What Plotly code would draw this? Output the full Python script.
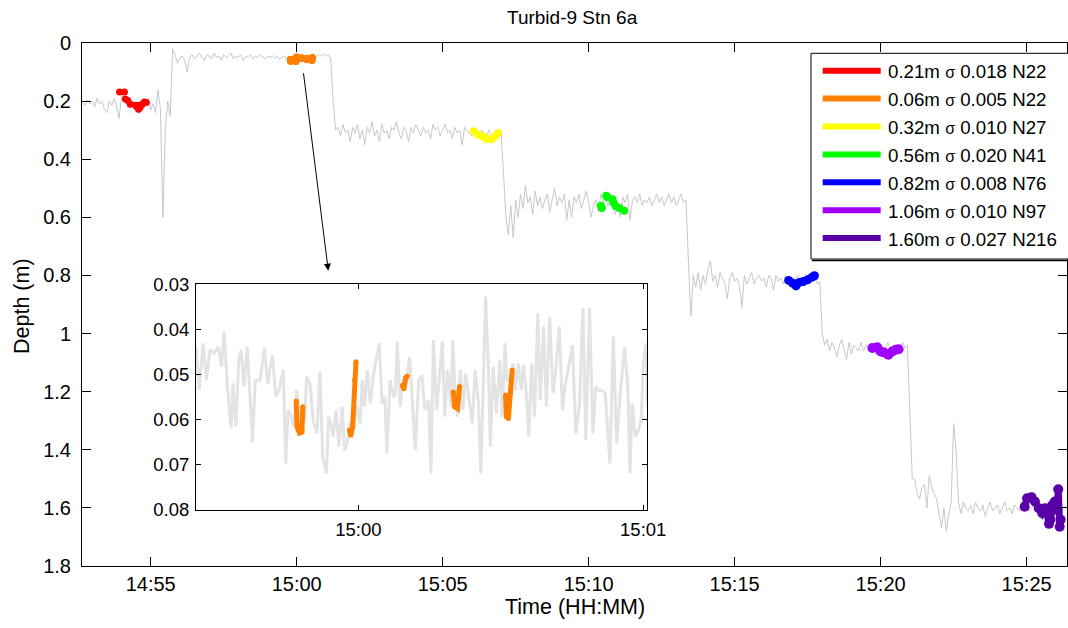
import pandas as pd
import plotly.graph_objects as go

DAY = "2013-01-01 "

# ---------------- main gray depth record (5 s samples from 14:52:40) ----------------
gray_start = "14:52:40"
seg_a = [0.205, 0.215, 0.195, 0.210, 0.200, 0.220, 0.190, 0.210, 0.200, 0.230,
         0.240, 0.200, 0.215, 0.190, 0.220, 0.260, 0.180, 0.200, 0.190, 0.210,
         0.200, 0.220, 0.210, 0.230, 0.200, 0.220, 0.210, 0.190, 0.230, 0.210,
         0.240, 0.160, 0.230, 0.600, 0.300, 0.200, 0.250]
seg_b = [0.020, 0.040, 0.070, 0.050, 0.045, 0.060, 0.100, 0.050, 0.040, 0.055,
         0.045, 0.035, 0.050, 0.060, 0.040, 0.045, 0.055, 0.035, 0.050, 0.045,
         0.060, 0.040, 0.050, 0.045, 0.035, 0.055, 0.045, 0.050, 0.040, 0.060,
         0.045, 0.050, 0.040, 0.055, 0.045, 0.050, 0.040, 0.048, 0.055, 0.045,
         0.050, 0.044, 0.052, 0.046, 0.055, 0.048, 0.044, 0.060, 0.050, 0.055,
         0.062, 0.058, 0.050, 0.055, 0.048, 0.052, 0.045, 0.050, 0.042, 0.048,
         0.040, 0.045, 0.038, 0.045, 0.040, 0.055]
seg_c = [0.200, 0.300, 0.290, 0.320, 0.280, 0.310, 0.300, 0.340, 0.290, 0.310,
         0.280, 0.330, 0.300, 0.350, 0.290, 0.310, 0.270, 0.320, 0.300, 0.340,
         0.280, 0.310, 0.300, 0.330, 0.290, 0.300, 0.270, 0.310, 0.330, 0.290,
         0.300, 0.340, 0.290, 0.310, 0.280, 0.300, 0.320, 0.290, 0.310, 0.300,
         0.330, 0.280, 0.300, 0.290, 0.320, 0.300, 0.280, 0.310, 0.300, 0.330,
         0.290, 0.310, 0.300, 0.350, 0.290, 0.300, 0.310, 0.320, 0.300, 0.310,
         0.330, 0.300, 0.310, 0.320, 0.300, 0.330, 0.310, 0.320, 0.300, 0.310]
seg_d = [0.450, 0.600, 0.660, 0.560, 0.670, 0.540, 0.600, 0.520, 0.570, 0.490,
         0.550, 0.530, 0.590, 0.510, 0.560, 0.530, 0.570, 0.540, 0.520, 0.580,
         0.540, 0.500, 0.560, 0.530, 0.550, 0.520, 0.610, 0.540, 0.600, 0.530,
         0.550, 0.520, 0.570, 0.540, 0.510, 0.550, 0.600, 0.560, 0.540, 0.580,
         0.520, 0.550, 0.530, 0.560, 0.520, 0.570, 0.590, 0.550, 0.600, 0.530,
         0.550, 0.520, 0.610, 0.540, 0.530, 0.550, 0.520, 0.560, 0.540, 0.550,
         0.530, 0.560, 0.540, 0.520, 0.550, 0.530, 0.560, 0.540, 0.520, 0.550,
         0.530, 0.560, 0.540, 0.520, 0.550, 0.540]
seg_e = [0.750, 0.940, 0.800, 0.840, 0.790, 0.850, 0.800, 0.830, 0.780, 0.750,
         0.820, 0.800, 0.840, 0.790, 0.810, 0.830, 0.880, 0.810, 0.790, 0.820,
         0.810, 0.840, 0.910, 0.800, 0.830, 0.810, 0.790, 0.830, 0.810, 0.800,
         0.820, 0.810, 0.840, 0.800, 0.810, 0.850, 0.800, 0.820, 0.810, 0.830,
         0.800, 0.820, 0.810, 0.830, 0.810, 0.800, 0.820, 0.810, 0.830, 0.800,
         0.820, 0.810, 0.800, 0.830, 0.820]
seg_f = [1.000, 1.040, 1.020, 1.060, 1.030, 1.050, 1.080, 1.040, 1.020, 1.060,
         1.090, 1.030, 1.070, 1.040, 1.050, 1.060, 1.030, 1.060, 1.040, 1.050,
         1.060, 1.040, 1.070, 1.050, 1.040, 1.060, 1.050, 1.030, 1.060, 1.050,
         1.040, 1.060, 1.050, 1.030, 1.050, 1.040]
seg_g = [1.300, 1.500, 1.500, 1.550, 1.570, 1.530, 1.520, 1.600, 1.490, 1.530,
         1.550, 1.570, 1.620, 1.670, 1.600, 1.680, 1.620, 1.580, 1.310, 1.400,
         1.580, 1.620, 1.580, 1.600, 1.610, 1.590, 1.620, 1.580, 1.600, 1.610,
         1.590, 1.630, 1.600, 1.580, 1.610, 1.600, 1.590, 1.620, 1.600, 1.580,
         1.610, 1.600, 1.620, 1.590, 1.600, 1.610, 1.580, 1.600, 1.590, 1.610,
         1.600, 1.590, 1.610, 1.600, 1.620, 1.590, 1.600, 1.610, 1.590, 1.600,
         1.610, 1.590, 1.620, 1.600, 1.590]
gray_depth = seg_a + seg_b + seg_c + seg_d + seg_e + seg_f + seg_g
gray_time = pd.date_range(DAY + gray_start, periods=len(gray_depth), freq="5s")

# ---------------- inset gray record (seconds relative to 15:00:00) ----------------
inset_sec = [-34.2, -33.5, -32.7, -32.0, -31.3, -30.4, -29.5, -28.8, -28.3, -27.6,
             -26.8, -26.4, -25.8, -25.2, -24.7, -24.1, -23.4, -22.9, -22.3, -21.7,
             -20.7, -19.8, -19.1, -18.1, -17.4, -16.7, -15.8, -15.3, -14.8, -14.3,
             -13.6, -13.0, -12.3, -11.3, -10.9, -10.2, -9.5, -8.7, -8.1, -7.5,
             -6.7, -6.3, -5.7, -5.3, -4.7, -4.1, -3.4, -2.9, -2.3, -1.9,
             -1.0, -0.3, 0.4, 0.8, 1.3, 1.9, 2.5, 3.2, 3.9, 4.4,
             5.0, 5.6, 6.0, 6.7, 7.4, 7.8, 8.2, 8.8, 9.4, 10.2,
             10.8, 11.3, 12.0, 12.7, 13.4, 14.0, 14.8, 15.3, 15.8, 16.5,
             17.1, 17.7, 18.2, 18.8, 19.5, 19.9, 20.3, 20.9, 21.5, 22.0,
             22.6, 23.3, 24.0, 24.6, 25.3, 25.8, 26.4, 26.8, 27.4, 27.8,
             28.4, 29.1, 29.8, 30.3, 30.9, 31.3, 32.0, 32.6, 33.1, 33.7,
             34.3, 34.8, 35.4, 35.9, 36.5, 37.1, 37.8, 38.3, 39.0, 39.6,
             40.3, 41.0, 41.6, 42.3, 43.0, 43.5, 44.2, 45.1, 45.8, 46.6,
             47.3, 47.9, 48.7, 49.4, 50.0, 50.6, 51.3, 52.0, 53.0, 53.7,
             54.4, 55.1, 56.1, 56.8, 57.2, 57.7, 58.3, 59.0, 59.6, 60.0,
             60.6, 60.9]
inset_depth = [0.0439, 0.0535, 0.0431, 0.0513, 0.0446, 0.0453, 0.0439, 0.0483, 0.0405, 0.0524,
               0.0620, 0.0520, 0.0616, 0.0468, 0.0446, 0.0527, 0.0439, 0.0527, 0.0650, 0.0513,
               0.0513, 0.0442, 0.0520, 0.0457, 0.0550, 0.0535, 0.0490, 0.0698, 0.0579, 0.0587,
               0.0616, 0.0535, 0.0594, 0.0602, 0.0505, 0.0520, 0.0605, 0.0631, 0.0494, 0.0683,
               0.0720, 0.0594, 0.0616, 0.0639, 0.0579, 0.0661, 0.0572, 0.0668, 0.0653, 0.0609,
               0.0605, 0.0572, 0.0609, 0.0513, 0.0572, 0.0490, 0.0565, 0.0498, 0.0453, 0.0431,
               0.0565, 0.0550, 0.0676, 0.0513, 0.0550, 0.0542, 0.0427, 0.0572, 0.0513, 0.0513,
               0.0461, 0.0550, 0.0668, 0.0513, 0.0502, 0.0579, 0.0557, 0.0720, 0.0424, 0.0579,
               0.0498, 0.0427, 0.0594, 0.0490, 0.0572, 0.0424, 0.0527, 0.0594, 0.0490, 0.0579,
               0.0498, 0.0557, 0.0609, 0.0490, 0.0565, 0.0720, 0.0490, 0.0327, 0.0490, 0.0661,
               0.0483, 0.0587, 0.0468, 0.0594, 0.0431, 0.0513, 0.0513, 0.0476, 0.0535, 0.0476,
               0.0535, 0.0479, 0.0542, 0.0639, 0.0476, 0.0594, 0.0364, 0.0557, 0.0394, 0.0572,
               0.0372, 0.0542, 0.0490, 0.0394, 0.0579, 0.0527, 0.0490, 0.0435, 0.0631, 0.0565,
               0.0353, 0.0646, 0.0353, 0.0631, 0.0527, 0.0535, 0.0535, 0.0542, 0.0698, 0.0416,
               0.0653, 0.0550, 0.0439, 0.0535, 0.0720, 0.0565, 0.0639, 0.0624, 0.0602, 0.0476,
               0.0431, 0.0572]

# ---------------- selected (coloured) segments ----------------
red_t = ["14:53:56", "14:54:06", None, "14:54:08", "14:54:13", None, "14:54:18", "14:54:42", None,
         "14:54:30", "14:54:35", "14:54:38", None, "14:54:42", "14:54:47", "14:54:51"]
red_d = [0.169, 0.169, None, 0.193, 0.198, None, 0.211, 0.212, None,
         0.218, 0.228, 0.222, None, 0.212, 0.203, 0.205]
orange_t = ["14:59:46.9", "14:59:47.1", "14:59:47.6", "14:59:48.1", "14:59:48.3", None,
            "14:59:58.1", "14:59:58.4", "14:59:58.8", "14:59:59.2", "14:59:59.5", None,
            "15:00:09.3", "15:00:09.6", "15:00:10.0", "15:00:10.3", None,
            "15:00:20.0", "15:00:20.3", "15:00:20.9", "15:00:21.3", None,
            "15:00:31.0", "15:00:31.2", "15:00:31.6", "15:00:32.0", "15:00:32.4"]
orange_d = [0.0559, 0.0616, 0.0630, 0.0628, 0.0572, None,
            0.0624, 0.0635, 0.0616, 0.0513, 0.0472, None,
            0.0524, 0.0532, 0.0507, 0.0504, None,
            0.0539, 0.0572, 0.0576, 0.0527, None,
            0.0546, 0.0594, 0.0598, 0.0542, 0.0490]
yellow_t = ["15:06:04", "15:06:13", "15:06:23", "15:06:30", "15:06:40", "15:06:47", "15:06:54"]
yellow_d = [0.304, 0.316, 0.322, 0.330, 0.331, 0.322, 0.310]
green_t = ["15:10:25", "15:10:27", None, "15:10:36", "15:10:39", None, "15:10:49", "15:10:51", None,
           "15:10:56", "15:11:03", "15:11:13"]
green_d = [0.560, 0.568, None, 0.526, 0.531, None, 0.538, 0.550, None, 0.562, 0.568, 0.577]
blue_t = ["15:16:51", "15:16:59", "15:17:06", "15:17:13", "15:17:21", "15:17:30", "15:17:39", "15:17:44"]
blue_d = [0.817, 0.826, 0.836, 0.824, 0.821, 0.815, 0.806, 0.801]
purple_t = ["15:19:43", "15:19:53", "15:20:00", "15:20:07", "15:20:16", "15:20:24", "15:20:31", "15:20:37"]
purple_d = [1.050, 1.047, 1.062, 1.065, 1.073, 1.062, 1.056, 1.054]
indigo_t = ["15:24:56", "15:25:01", "15:25:10", "15:25:17", "15:25:25", "15:25:32", "15:25:38", "15:25:42",
            "15:25:46", "15:25:49", "15:25:53", "15:25:58", "15:26:03", "15:26:05", "15:26:08", "15:26:10"]
indigo_d = [1.596, 1.567, 1.563, 1.578, 1.601, 1.618, 1.601, 1.618,
            1.655, 1.641, 1.590, 1.578, 1.607, 1.536, 1.665, 1.641]

legend_mean = ["0.21m", "0.06m", "0.32m", "0.56m", "0.82m", "1.06m", "1.60m"]
legend_sigma = ["0.018", "0.005", "0.010", "0.020", "0.008", "0.010", "0.027"]
legend_n = ["N22", "N22", "N27", "N41", "N76", "N97", "N216"]
colors = ["#ff0000", "#ff8000", "#ffff00", "#00ff00", "#0000ff", "#a000ff", "#5a00a8"]

main_ticks = ["14:55", "15:00", "15:05", "15:10", "15:15", "15:20", "15:25"]
depth_ticks = [0, 0.2, 0.4, 0.6, 0.8, 1.0, 1.2, 1.4, 1.6, 1.8]
depth_ticktext = ["0", "0.2", "0.4", "0.6", "0.8", "1", "1.2", "1.4", "1.6", "1.8"]
inset_xticks = ["15:00", "15:01"]
inset_yticks = [0.03, 0.04, 0.05, 0.06, 0.07, 0.08]
inset_yticktext = ["0.03", "0.04", "0.05", "0.06", "0.07", "0.08"]


def ts(lst):
    return [None if v is None else DAY + v for v in lst]


FONT = "Liberation Sans, Arial, sans-serif"
W, H = 1068, 628
L, T, R, B = 82, 43, 1, 62
PW, PH = W - L - R, H - T - B


def px(x):
    return (x - L) / PW


def py(y):
    return (T + PH - y) / PH


fig = go.Figure()

fig.add_trace(go.Scatter(x=gray_time, y=gray_depth, mode="lines",
                         line=dict(color="#c8c8c8", width=1), xaxis="x", yaxis="y",
                         showlegend=False, hoverinfo="skip"))

sel = [(red_t, red_d, 0, 5, 7), (orange_t, orange_d, 1, 5, 7), (yellow_t, yellow_d, 2, 5, 8),
       (green_t, green_d, 3, 5, 8), (blue_t, blue_d, 4, 6, 9), (purple_t, purple_d, 5, 7, 10),
       (indigo_t, indigo_d, 6, 7, 10)]
for tt, dd, ci, lw, ms in sel:
    fig.add_trace(go.Scatter(x=ts(tt), y=dd, mode="lines+markers",
                             line=dict(color=colors[ci], width=lw),
                             marker=dict(color=colors[ci], size=ms, line=dict(width=0)),
                             connectgaps=False, xaxis="x", yaxis="y", showlegend=False))

# inset
inset_time = pd.Timestamp(DAY + "15:00:00") + pd.to_timedelta(inset_sec, unit="s")
fig.add_trace(go.Scatter(x=inset_time, y=inset_depth, mode="lines",
                         line=dict(color="#e3e3e3", width=3), xaxis="x2", yaxis="y2",
                         showlegend=False))
fig.add_trace(go.Scatter(x=ts(orange_t), y=orange_d, mode="lines+markers",
                         line=dict(color=colors[1], width=5),
                         marker=dict(color=colors[1], size=5, line=dict(width=0)),
                         connectgaps=False, xaxis="x2", yaxis="y2", showlegend=False))

axis_common = dict(showline=True, linecolor="black", linewidth=1, mirror="ticks",
                   ticks="inside", tickcolor="black", showgrid=False, zeroline=False,
                   tickfont=dict(family=FONT, size=20, color="black"))
inset_font = dict(family=FONT, size=18.5, color="black")

fig.update_layout(
    width=W, height=H, margin=dict(l=L, r=R, t=T, b=B, autoexpand=False),
    paper_bgcolor="white", plot_bgcolor="white",
    font=dict(family=FONT, color="black"),
    xaxis=dict(type="date", range=[DAY + "14:52:38.8", DAY + "15:26:23"],
               tickvals=ts(main_ticks), ticktext=main_ticks, ticklen=9,
               ticklabelstandoff=0, domain=[0, 1], anchor="y", **axis_common),
    yaxis=dict(range=[1.8, 0], tickvals=depth_ticks, ticktext=depth_ticktext, ticklen=9,
               ticklabelstandoff=6, domain=[0, 1], anchor="x", **axis_common),
    xaxis2=dict(type="date", range=[DAY + "14:59:25.8", DAY + "15:01:00.8"],
                tickvals=ts(inset_xticks), ticktext=inset_xticks, ticklen=5,
                ticklabelstandoff=3, domain=[px(196), px(647)], anchor="y2",
                **{**axis_common, "tickfont": inset_font}),
    yaxis2=dict(range=[0.08, 0.03], tickvals=inset_yticks, ticktext=inset_yticktext, ticklen=5,
                ticklabelstandoff=2, domain=[py(509.5), py(284.3)], anchor="x2",
                **{**axis_common, "tickfont": inset_font}),
)

ann = []
ann.append(dict(text="Turbid-9 Stn 6a", xref="paper", yref="paper", x=px(572), y=py(17),
                xanchor="center", yanchor="middle", showarrow=False,
                font=dict(family=FONT, size=19, color="black")))
ann.append(dict(text="Time (HH:MM)", xref="paper", yref="paper", x=px(575), y=py(607),
                xanchor="center", yanchor="middle", showarrow=False,
                font=dict(family=FONT, size=21.5, color="black")))
ann.append(dict(text="Depth (m)", xref="paper", yref="paper", x=px(22), y=py(306),
                xanchor="center", yanchor="middle", showarrow=False, textangle=-90,
                font=dict(family=FONT, size=21.5, color="black")))
# arrow from main orange section to inset
ann.append(dict(text="", xref="paper", yref="paper", x=px(328.3), y=py(270.7),
                ax=-25, ay=-199, showarrow=True, arrowhead=2, arrowsize=1.4,
                arrowwidth=1, arrowcolor="black"))

shapes = []
# legend box with shadow
shapes.append(dict(type="rect", xref="paper", yref="paper", x0=px(811), x1=px(1080),
                   y0=py(259), y1=py(53.3), line=dict(color="black", width=1),
                   fillcolor="white", layer="above"))
shapes.append(dict(type="line", xref="paper", yref="paper", x0=px(812), x1=px(1080),
                   y0=py(260.5), y1=py(260.5), line=dict(color="black", width=1.5), layer="above"))
row0, drow = 70.7, 27.9
for k, col in enumerate(colors):
    yy = row0 + k * drow
    lab = (legend_mean[k] + " <span style='font-size:16px'>σ</span> "
           + legend_sigma[k] + " " + legend_n[k])
    shapes.append(dict(type="line", xref="paper", yref="paper", x0=px(822.7), x1=px(880.7),
                       y0=py(yy), y1=py(yy), line=dict(color=col, width=6), layer="above"))
    ann.append(dict(text=lab, xref="paper", yref="paper", x=px(886), y=py(yy + 1.2),
                    xanchor="left", yanchor="middle", showarrow=False,
                    font=dict(family=FONT, size=18.7, color="black")))

fig.update_layout(annotations=ann, shapes=shapes)
fig.write_html("out.html", config={"displayModeBar": False},
               post_script="document.body.style.margin='0';document.body.style.overflow='hidden';")
